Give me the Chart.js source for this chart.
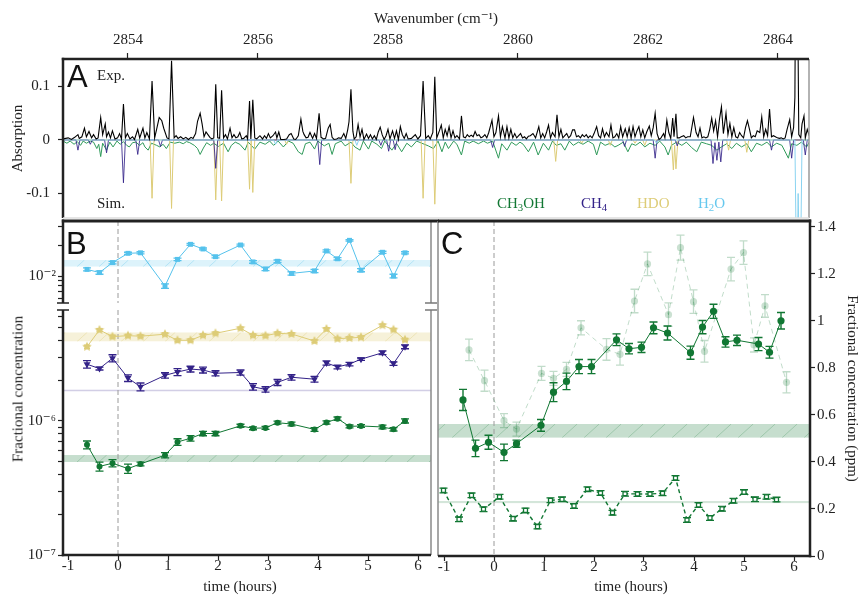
<!DOCTYPE html>
<html><head><meta charset="utf-8">
<script src="https://cdn.jsdelivr.net/npm/chart.js@4.4.1/dist/chart.umd.min.js"></script>
<style>
html,body{margin:0;padding:0;background:#fff;}
#wrap{position:relative;width:861px;height:595px;overflow:hidden;background:#fff;font-family:'Liberation Serif','DejaVu Serif',serif;color:#222;}
canvas{position:absolute;}
.lbl{position:absolute;white-space:nowrap;line-height:1;font-size:15px;}
.panel{position:absolute;font-family:'Liberation Sans','DejaVu Sans',sans-serif;font-size:31px;line-height:1;color:#111;}
sub{font-size:0.72em;vertical-align:-0.28em;line-height:0;}
</style></head><body>
<div id="wrap">
<canvas id="cA" width="861" height="235" style="left:0;top:0;width:861px;height:235px"></canvas>
<canvas id="cBu" width="440" height="104" style="left:0;top:210px;width:440px;height:104px"></canvas>
<canvas id="cBl" width="440" height="296" style="left:0;top:299px;width:440px;height:296px"></canvas>
<canvas id="cC" width="431" height="385" style="left:430px;top:210px;width:431px;height:385px"></canvas>
<div class="panel" style="left:67px;top:61px">A</div>
<div class="panel" style="left:66px;top:228px">B</div>
<div class="panel" style="left:441px;top:228px">C</div>
<div class="lbl" style="left:97px;top:68px">Exp.</div>
<div class="lbl" style="left:97px;top:196px">Sim.</div>
<div class="lbl" style="left:497px;top:196px;color:#117733">CH<sub>3</sub>OH</div>
<div class="lbl" style="left:581px;top:196px;color:#332288">CH<sub>4</sub></div>
<div class="lbl" style="left:637px;top:196px;color:#DDCC77">HDO</div>
<div class="lbl" style="left:698px;top:196px;color:#66C8EE">H<sub>2</sub>O</div>
<div class="lbl" style="left:18px;top:389px;transform:translate(-50%,-50%) rotate(-90deg)">Fractional concentration</div>
<div class="lbl" style="left:240px;top:579px;transform:translateX(-50%)">time (hours)</div>
<div class="lbl" style="left:631px;top:579px;transform:translateX(-50%)">time (hours)</div>
</div>
<script>
// ---------------- DATA ----------------
// Panel A: wavenumber ticks and absorption ticks
const wnTicks = [2854, 2856, 2858, 2860, 2862, 2864];
const absTicks = [-0.1, 0, 0.1];
// Experimental spectrum [wavenumber, absorption]
const expSpectrum = [
[2853.00,.002],[2853.08,.004],[2853.13,.001],[2853.18,.005],[2853.23,.010],[2853.25,.003],[2853.29,.006],[2853.33,.022],[2853.36,.006],[2853.40,.016],
[2853.44,.004],[2853.47,.010],[2853.51,.002],[2853.54,.004],[2853.58,.042],[2853.61,.010],[2853.65,.030],[2853.67,.006],[2853.70,.015],[2853.73,.004],
[2853.76,.017],[2853.80,.002],[2853.84,.004],[2853.87,.012],[2853.90,.002],[2853.93,.067],[2853.96,.004],[2853.99,.012],[2854.03,.002],[2854.07,.006],
[2854.10,.001],[2854.15,.020],[2854.18,.004],[2854.23,.022],[2854.26,.004],[2854.29,.014],[2854.33,.002],[2854.37,.110],[2854.41,.004],[2854.44,.020],
[2854.48,.042],[2854.52,.036],[2854.55,.022],[2854.60,.004],[2854.63,.002],[2854.67,.148],[2854.71,.004],[2854.74,.008],[2854.77,.003],[2854.81,.006],
[2854.85,.002],[2854.89,.005],[2854.93,.001],[2854.97,.005],[2855.00,.003],[2855.04,.012],[2855.07,.035],[2855.11,.050],[2855.14,.030],[2855.17,.006],
[2855.20,.015],[2855.23,.010],[2855.26,.005],[2855.29,.002],[2855.32,.004],[2855.35,.104],[2855.38,.004],[2855.41,.003],[2855.44,.093],[2855.47,.004],
[2855.50,.010],[2855.53,.002],[2855.57,.022],[2855.60,.004],[2855.63,.010],[2855.66,.004],[2855.69,.006],[2855.72,.014],[2855.75,.002],[2855.78,.003],
[2855.82,.008],[2855.84,.002],[2855.87,.073],[2855.89,.002],[2855.92,.075],[2855.95,.004],[2855.98,.002],[2856.03,.008],[2856.07,.002],[2856.10,.008],
[2856.13,.003],[2856.16,.012],[2856.19,.004],[2856.23,.008],[2856.27,.015],[2856.29,.004],[2856.32,.015],[2856.35,.001],[2856.40,.001],[2856.44,.002],
[2856.48,.010],[2856.51,.012],[2856.55,.002],[2856.58,.001],[2856.62,.008],[2856.66,.039],[2856.69,.016],[2856.71,.010],[2856.74,.004],[2856.77,.005],
[2856.80,.014],[2856.84,.003],[2856.87,.012],[2856.90,.003],[2856.94,.050],[2856.97,.005],[2857.01,.002],[2857.04,.003],[2857.08,.022],[2857.11,.029],
[2857.14,.005],[2857.17,.001],[2857.21,.002],[2857.24,.004],[2857.28,.003],[2857.32,.012],[2857.35,.003],[2857.38,.019],[2857.40,.034],[2857.43,.095],
[2857.46,.016],[2857.48,.002],[2857.51,.006],[2857.54,.029],[2857.57,.006],[2857.60,.020],[2857.63,.001],[2857.67,.011],[2857.70,.003],[2857.73,.010],
[2857.76,.002],[2857.79,.008],[2857.82,.001],[2857.85,.015],[2857.88,.024],[2857.91,.010],[2857.94,.001],[2857.97,.008],[2858.00,.020],[2858.03,.002],
[2858.07,.017],[2858.10,.003],[2858.13,.017],[2858.16,.001],[2858.19,.025],[2858.22,.010],[2858.25,.003],[2858.28,.012],[2858.31,.002],[2858.36,.003],
[2858.42,.010],[2858.46,.002],[2858.50,.008],[2858.54,.110],[2858.58,.003],[2858.62,.008],[2858.65,.002],[2858.69,.014],[2858.72,.118],[2858.75,.004],
[2858.79,.017],[2858.82,.028],[2858.85,.004],[2858.88,.020],[2858.91,.008],[2858.94,.025],[2858.97,.004],[2859.00,.017],[2859.03,.004],[2859.06,.008],
[2859.10,.002],[2859.13,.045],[2859.16,.006],[2859.19,.004],[2859.22,.010],[2859.25,.006],[2859.28,.009],[2859.31,.006],[2859.34,.016],[2859.37,.008],
[2859.40,.010],[2859.43,.004],[2859.46,.006],[2859.49,.010],[2859.52,.004],[2859.55,.014],[2859.60,.037],[2859.63,.006],[2859.66,.014],[2859.70,.045],
[2859.73,.006],[2859.76,.025],[2859.80,.004],[2859.83,.025],[2859.86,.004],[2859.89,.020],[2859.92,.004],[2859.95,.012],[2859.98,.004],[2860.01,.008],
[2860.04,.012],[2860.07,.004],[2860.10,.006],[2860.13,.002],[2860.16,.007],[2860.19,.008],[2860.23,.012],[2860.27,.004],[2860.32,.025],[2860.35,.004],
[2860.38,.012],[2860.41,.004],[2860.44,.015],[2860.47,.028],[2860.50,.004],[2860.53,.014],[2860.57,.006],[2860.60,.047],[2860.63,.006],[2860.66,.020],
[2860.69,.004],[2860.72,.008],[2860.75,.012],[2860.78,.004],[2860.81,.008],[2860.84,.019],[2860.87,.019],[2860.90,.006],[2860.93,.008],[2860.96,.004],
[2860.99,.010],[2861.02,.006],[2861.05,.010],[2861.08,.004],[2861.11,.008],[2861.14,.004],[2861.17,.012],[2861.21,.025],[2861.24,.008],[2861.27,.004],
[2861.30,.021],[2861.33,.006],[2861.36,.014],[2861.40,.006],[2861.43,.028],[2861.46,.004],[2861.49,.006],[2861.52,.012],[2861.55,.004],[2861.58,.025],
[2861.61,.006],[2861.65,.021],[2861.68,.006],[2861.71,.023],[2861.74,.004],[2861.77,.025],[2861.80,.006],[2861.83,.017],[2861.86,.025],[2861.89,.006],
[2861.92,.019],[2861.95,.004],[2861.98,.015],[2862.02,.026],[2862.05,.008],[2862.08,.023],[2862.11,.050],[2862.14,.012],[2862.17,.001],[2862.20,.004],
[2862.24,.012],[2862.26,.004],[2862.29,.037],[2862.32,.014],[2862.35,.003],[2862.38,.041],[2862.40,.006],[2862.43,.049],[2862.45,.004],[2862.48,.004],
[2862.51,.006],[2862.55,.008],[2862.58,.004],[2862.61,.006],[2862.65,.006],[2862.70,.042],[2862.74,.014],[2862.77,.006],[2862.80,.022],[2862.83,.004],
[2862.86,.006],[2862.89,.004],[2862.92,.006],[2862.95,.020],[2862.98,.041],[2863.01,.017],[2863.04,.036],[2863.07,.006],[2863.10,.039],[2863.13,.062],
[2863.16,.012],[2863.20,.050],[2863.23,.010],[2863.26,.031],[2863.29,.006],[2863.32,.023],[2863.35,.006],[2863.38,.004],[2863.41,.014],[2863.44,.008],
[2863.47,.004],[2863.50,.023],[2863.53,.036],[2863.56,.021],[2863.59,.004],[2863.62,.008],[2863.65,.006],[2863.68,.017],[2863.72,.014],[2863.75,.043],
[2863.78,.006],[2863.81,.020],[2863.84,.008],[2863.87,.058],[2863.90,.006],[2863.93,.008],[2863.96,.006],[2863.99,.004],[2864.02,.003],[2864.05,.004],
[2864.08,.002],[2864.11,.004],[2864.14,.020],[2864.18,.038],[2864.21,.006],[2864.24,.023],[2864.26,.080],[2864.27,.300],[2864.30,.300],[2864.32,.010],
[2864.35,.004],[2864.37,.030],[2864.40,.045],[2864.42,.004],[2864.45,.020],[2864.48,.008]];
// Simulated spectra (plotted negative)
const simCH3OH = [
[2853.00,-.002],[2853.06,-.006],[2853.11,-.002],[2853.17,-.008],[2853.22,-.003],[2853.27,-.010],[2853.31,-.002],[2853.36,-.006],[2853.42,-.002],[2853.47,-.004],
[2853.52,-.016],[2853.55,-.008],[2853.58,-.031],[2853.61,-.006],[2853.67,-.019],[2853.72,-.004],[2853.77,-.013],[2853.83,-.002],[2853.88,-.008],[2853.93,-.003],
[2853.98,-.010],[2854.02,-.013],[2854.07,-.005],[2854.12,-.004],[2854.18,-.010],[2854.23,-.005],[2854.26,-.013],[2854.31,-.019],[2854.36,-.006],[2854.44,-.010],
[2854.49,-.013],[2854.54,-.008],[2854.59,-.016],[2854.65,-.004],[2854.72,-.006],[2854.79,-.004],[2854.85,-.007],[2854.90,-.003],[2854.95,-.005],[2855.02,-.010],
[2855.07,-.016],[2855.11,-.027],[2855.16,-.015],[2855.21,-.005],[2855.27,-.010],[2855.32,-.006],[2855.39,-.012],[2855.47,-.006],[2855.54,-.022],[2855.59,-.010],
[2855.65,-.004],[2855.72,-.008],[2855.80,-.019],[2855.85,-.004],[2855.95,-.017],[2856.03,-.004],[2856.11,-.008],[2856.18,-.002],[2856.24,-.010],[2856.31,-.002],
[2856.39,-.013],[2856.47,-.002],[2856.54,-.006],[2856.62,-.022],[2856.68,-.027],[2856.73,-.007],[2856.80,-.004],[2856.87,-.017],[2856.92,-.002],[2857.02,-.011],
[2857.09,-.006],[2857.14,-.027],[2857.19,-.007],[2857.28,-.002],[2857.34,-.011],[2857.43,-.004],[2857.49,-.013],[2857.57,-.019],[2857.62,-.002],[2857.70,-.017],
[2857.75,-.002],[2857.83,-.008],[2857.90,-.016],[2857.95,-.002],[2858.06,-.019],[2858.13,-.006],[2858.21,-.022],[2858.29,-.006],[2858.36,-.013],[2858.44,-.002],
[2858.52,-.006],[2858.62,-.011],[2858.70,-.016],[2858.77,-.002],[2858.83,-.022],[2858.88,-.004],[2858.93,-.016],[2859.01,-.002],[2859.06,-.008],[2859.13,-.028],
[2859.18,-.002],[2859.25,-.006],[2859.31,-.002],[2859.39,-.007],[2859.47,-.002],[2859.53,-.006],[2859.61,-.002],[2859.70,-.034],[2859.75,-.007],[2859.83,-.019],
[2859.90,-.004],[2859.97,-.010],[2860.03,-.004],[2860.08,-.008],[2860.16,-.022],[2860.24,-.004],[2860.31,-.028],[2860.39,-.006],[2860.47,-.019],[2860.53,-.002],
[2860.59,-.010],[2860.66,-.007],[2860.72,-.019],[2860.79,-.002],[2860.85,-.010],[2860.93,-.004],[2861.00,-.008],[2861.08,-.002],[2861.16,-.008],[2861.21,-.028],
[2861.27,-.004],[2861.34,-.010],[2861.42,-.006],[2861.49,-.013],[2861.54,-.010],[2861.62,-.004],[2861.69,-.022],[2861.75,-.007],[2861.81,-.010],[2861.88,-.004],
[2861.95,-.013],[2862.03,-.006],[2862.11,-.010],[2862.18,-.002],[2862.26,-.013],[2862.31,-.028],[2862.36,-.010],[2862.44,-.004],[2862.52,-.010],[2862.59,-.004],
[2862.67,-.014],[2862.75,-.022],[2862.82,-.004],[2862.90,-.007],[2862.98,-.010],[2863.06,-.019],[2863.13,-.013],[2863.21,-.007],[2863.29,-.016],[2863.36,-.006],
[2863.44,-.013],[2863.52,-.007],[2863.59,-.022],[2863.67,-.006],[2863.75,-.010],[2863.83,-.004],[2863.90,-.013],[2863.98,-.006],[2864.06,-.010],[2864.16,-.034],
[2864.21,-.007],[2864.29,-.010],[2864.36,-.004],[2864.44,-.013],[2864.48,-.004]];
const simCH4 = [
[2853.00,0],[2853.20,0],[2853.23,-.019],[2853.26,0],[2853.39,0],[2853.42,-.008],[2853.45,0],[2853.64,0],[2853.67,-.024],[2853.70,0],[2853.90,0],[2853.93,-.080],
[2853.96,0],[2854.12,0],[2854.15,-.027],[2854.18,0],[2854.47,0],[2854.50,-.012],[2854.53,0],[2855.32,0],[2855.35,-.053],[2855.38,0],[2856.92,0],[2856.95,-.046],
[2856.98,0],[2857.86,0],[2857.89,-.010],[2857.92,0],[2857.98,0],[2858.01,-.021],[2858.04,0],[2858.08,0],[2858.11,-.018],[2858.14,0],[2859.58,0],[2859.61,-.014],
[2859.64,0],[2861.61,0],[2861.64,-.012],[2861.67,0],[2862.08,0],[2862.11,-.034],[2862.14,0],[2862.42,0],[2862.45,-.011],[2862.48,0],[2862.97,0],[2863.00,-.044],
[2863.03,-.005],[2863.06,-.038],[2863.09,-.004],[2863.12,-.041],[2863.15,0],[2863.87,0],[2863.90,-.019],[2863.93,0],[2864.18,0],[2864.21,-.034],[2864.24,0],
[2864.39,0],[2864.42,-.028],[2864.45,0],[2864.48,0]];
const simHDO = [
[2853.00,0],[2854.34,0],[2854.37,-.109],[2854.40,0],[2854.64,0],[2854.67,-.128],[2854.70,0],[2855.32,0],[2855.35,-.112],[2855.38,0],[2855.41,0],[2855.44,-.114],
[2855.47,0],[2855.84,0],[2855.87,-.092],[2855.895,0],[2855.92,-.098],[2855.95,0],[2856.41,0],[2856.44,-.008],[2856.47,0],[2857.40,0],[2857.43,-.081],[2857.46,0],
[2858.51,0],[2858.54,-.109],[2858.57,0],[2858.69,0],[2858.72,-.120],[2858.75,0],[2860.55,0],[2860.58,-.040],[2860.61,0],[2860.95,0],[2860.98,-.006],[2861.01,0],
[2861.39,0],[2861.42,-.010],[2861.45,0],[2861.77,0],[2861.80,-.006],[2861.83,0],[2861.92,0],[2861.95,-.010],[2861.98,0],[2862.36,0],[2862.39,-.056],[2862.41,-.010],
[2862.43,-.054],[2862.46,0],[2863.21,0],[2863.24,-.019],[2863.27,0],[2863.49,0],[2863.52,-.023],[2863.55,0],[2864.48,0]];
const simH2O = [
[2853.00,0],[2856.24,0],[2856.27,-.008],[2856.30,0],[2857.49,0],[2857.52,-.010],[2857.55,0],[2862.10,0],[2862.13,-.006],[2862.16,0],[2864.26,0],[2864.29,-.30],
[2864.31,-.10],[2864.34,-.30],[2864.37,0],[2864.48,0]];

// Panels B and C: time (hours)
const timeTicks = [-1, 0, 1, 2, 3, 4, 5, 6];
const tMain = [-0.62,-0.37,-0.11,0.2,0.45,0.94,1.19,1.45,1.7,1.95,2.45,2.7,2.95,3.19,3.47,3.93,4.17,4.39,4.63,4.86,5.29,5.51,5.74];
const ch3ohPpm = [0.664,0.458,0.484,0.441,0.478,0.556,0.697,0.743,0.806,0.806,0.92,0.882,0.888,0.971,0.949,0.865,0.974,1.041,0.911,0.918,0.902,0.867,1.001];
const ch3ohErr = [0.045,0.035,0.03,0.035,0.015,0.025,0.04,0.035,0.03,0.03,0.025,0.022,0.022,0.025,0.03,0.028,0.028,0.03,0.022,0.022,0.028,0.025,0.035];
const ch4Ppm = [2.65,2.46,2.94,2.09,1.80,2.19,2.32,2.44,2.40,2.27,2.30,1.80,1.72,1.94,2.12,2.05,2.71,2.53,2.66,2.89,3.23,2.68,3.58];
const ch4Err = [0.17,0.06,0.18,0.12,0.12,0.1,0.14,0.12,0.12,0.1,0.1,0.1,0.08,0.1,0.1,0.1,0.1,0.08,0.08,0.06,0.1,0.08,0.12];
const hdoPpm = [3.58,4.78,4.26,4.33,4.29,4.44,4.0,4.0,4.36,4.51,4.92,4.36,4.33,4.51,4.46,3.95,4.86,4.11,4.16,4.21,5.18,4.8,4.04];
const hdoErr = [0.1,0.1,0.1,0.1,0.1,0.1,0.1,0.1,0.1,0.1,0.1,0.1,0.1,0.1,0.1,0.1,0.1,0.1,0.1,0.1,0.1,0.1,0.1];
const h2oFrac = [0.0116,0.0108,0.0135,0.0166,0.0168,0.0080,0.0145,0.0203,0.0183,0.0154,0.0200,0.0137,0.0117,0.0139,0.0106,0.0112,0.0175,0.0147,0.0222,0.0114,0.0170,0.0100,0.0168];
const h2oErr = [0.0004,0.0004,0.0004,0.0004,0.0004,0.0004,0.0004,0.0004,0.0004,0.0004,0.0004,0.0004,0.0004,0.0004,0.0004,0.0004,0.0004,0.0004,0.0004,0.0004,0.0004,0.0004,0.0004];
const tAlt = [-0.5,-0.19,0.2,0.45,0.95,1.19,1.45,1.74,2.25,2.52,2.81,3.07,3.49,3.73,3.99,4.21,4.74,4.99,5.2,5.42,5.85];
const altPpm = [0.877,0.746,0.576,0.54,0.777,0.756,0.794,0.971,0.879,0.858,1.085,1.243,1.027,1.312,1.082,0.871,1.221,1.291,0.898,1.064,0.739];
const altErr = [0.046,0.045,0.03,0.03,0.03,0.03,0.03,0.03,0.046,0.046,0.05,0.05,0.05,0.053,0.05,0.046,0.05,0.05,0.03,0.048,0.045];
const tSq = [-1.01,-0.7,-0.45,-0.21,0.11,0.38,0.63,0.87,1.13,1.36,1.6,1.87,2.13,2.37,2.62,2.87,3.12,3.37,3.63,3.86,4.09,4.32,4.56,4.79,5.0,5.22,5.45,5.65];
const sqPpm = [0.279,0.156,0.258,0.199,0.252,0.159,0.194,0.125,0.237,0.241,0.213,0.284,0.268,0.184,0.265,0.264,0.264,0.267,0.332,0.153,0.217,0.162,0.201,0.235,0.272,0.241,0.252,0.240];
const sqErr = [0.01,0.01,0.01,0.01,0.01,0.01,0.01,0.01,0.01,0.01,0.01,0.01,0.01,0.01,0.01,0.01,0.01,0.01,0.01,0.01,0.01,0.01,0.01,0.01,0.01,0.01,0.01,0.01];
// Reference bands
const h2oBand = [0.0123, 0.0143];
const hdoBand = [3.91e-6, 4.59e-6];
const ch4Band = [1.66e-6, 1.72e-6];
const ch3ohBandB = [0.494e-6, 0.557e-6];
const ch3ohBandC = [0.503, 0.562];
const sqBand = [0.224, 0.234];
const eventTime = 0;
// axis tick values
const upperTicks = [0.006,0.007,0.008,0.009,0.01,0.02,0.03];
const lowerTicks = [1e-7,2e-7,3e-7,4e-7,5e-7,6e-7,7e-7,8e-7,9e-7,1e-6,2e-6,3e-6,4e-6,5e-6,6e-6];
const ppmTicks = [0,0.2,0.4,0.6,0.8,1,1.2,1.4];

// ---------------- STYLE ----------------
const SERIF = "'Liberation Serif','DejaVu Serif',serif";
const GREEN='#117733', PURPLE='#332288', SAND='#DDCC77', CYAN='#55C2EC', CYANL='#8AD3F0';
const PALE='rgba(17,119,51,0.26)';
const INK='#222';

const framePlugin = {
  id:'frame',
  afterDraw(chart, args, o){
    const a=chart.chartArea, ctx=chart.ctx, e=o.edges||{};
    const ln=(x1,y1,x2,y2,c,w)=>{ctx.strokeStyle=c;ctx.lineWidth=w;ctx.beginPath();ctx.moveTo(x1,y1);ctx.lineTo(x2,y2);ctx.stroke();};
    ctx.save(); ctx.setLineDash([]);
    if(e.left) ln(a.left,a.top-(e.left[2]||0),a.left,a.bottom+(e.left[3]||0),e.left[0],e.left[1]);
    if(e.right) ln(a.right,a.top-(e.right[2]||0),a.right,a.bottom+(e.right[3]||0),e.right[0],e.right[1]);
    if(e.top) ln(a.left-(e.top[2]||0),a.top,a.right+(e.top[3]||0),a.top,e.top[0],e.top[1]);
    if(e.bottom) ln(a.left-(e.bottom[2]||0),a.bottom,a.right+(e.bottom[3]||0),a.bottom,e.bottom[0],e.bottom[1]);
    (o.caps||[]).forEach(c=>{
      const y=c.y==='top'?a.top:a.bottom;
      ln(a.left-6,y,a.left+6,y,INK,1.5);
      ln(a.right-6,y,a.right+6,y,'#777',1.5);
    });
    ctx.restore();
  }
};
const bandPlugin = {
  id:'bands',
  beforeDatasetsDraw(chart, args, o){
    if(!o.list) return;
    const a=chart.chartArea, ctx=chart.ctx, ys=chart.scales.y;
    o.list.forEach(b=>{
      const y1=ys.getPixelForValue(b.range[1]), y2=ys.getPixelForValue(b.range[0]);
      ctx.save(); ctx.beginPath(); ctx.rect(a.left,y1,a.right-a.left,y2-y1); ctx.clip();
      ctx.fillStyle=b.color; ctx.fillRect(a.left,y1,a.right-a.left,y2-y1);
      if(b.hatch){
        const h=y2-y1; ctx.strokeStyle=b.hatch; ctx.lineWidth=1; ctx.beginPath();
        for(let x=a.left-30;x<a.right+30;x+=22){ctx.moveTo(x,y2);ctx.lineTo(x+Math.max(h,6)*1.1,y1);}
        ctx.stroke();
      }
      ctx.restore();
    });
  }
};
const vlinePlugin = {
  id:'vline',
  beforeDatasetsDraw(chart, args, o){
    if(o.value===undefined) return;
    const a=chart.chartArea, ctx=chart.ctx, x=chart.scales.x.getPixelForValue(o.value);
    ctx.save(); ctx.setLineDash([5,3]); ctx.strokeStyle='#9a9a9a'; ctx.lineWidth=1;
    ctx.beginPath(); ctx.moveTo(x,a.top); ctx.lineTo(x,a.bottom); ctx.stroke(); ctx.restore();
  }
};
const errPlugin = {
  id:'errbars',
  beforeDatasetDraw(chart, args){
    const ds=chart.data.datasets[args.index];
    if(!ds.errors) return;
    const meta=args.meta, ys=chart.scales[meta.yAxisID], ctx=chart.ctx, c=ds.cap||4;
    ctx.save(); ctx.setLineDash([]); ctx.strokeStyle=ds.errColor||ds.borderColor; ctx.lineWidth=ds.errWidth||1.3;
    ctx.beginPath();
    meta.data.forEach((pt,j)=>{
      const v=ds.data[j].y, e=ds.errors[j];
      const y1=ys.getPixelForValue(v-e), y2=ys.getPixelForValue(v+e);
      ctx.moveTo(pt.x,y1); ctx.lineTo(pt.x,y2);
      ctx.moveTo(pt.x-c,y1); ctx.lineTo(pt.x+c,y1);
      ctx.moveTo(pt.x-c,y2); ctx.lineTo(pt.x+c,y2);
    });
    ctx.stroke(); ctx.restore();
  }
};
Chart.register(framePlugin, bandPlugin, vlinePlugin, errPlugin);

function starImg(color, r){
  const s=Math.ceil(r*2+2), c=document.createElement('canvas'); c.width=c.height=s;
  const g=c.getContext('2d'); g.fillStyle=color; g.beginPath();
  for(let k=0;k<10;k++){const ang=-Math.PI/2+k*Math.PI/5, rr=k%2?r*0.5:r; g.lineTo(s/2+rr*Math.cos(ang), s/2+rr*Math.sin(ang));}
  g.closePath(); g.fill(); return c;
}
const SUP={'-':'⁻','0':'⁰','1':'¹','2':'²','3':'³','4':'⁴','5':'⁵','6':'⁶','7':'⁷','8':'⁸','9':'⁹'};
function powLabel(v){const lg=Math.log10(v), r=Math.round(lg); if(Math.abs(lg-r)>1e-6) return ''; return '10'+String(r).split('').map(ch=>SUP[ch]).join('');}
const tf=()=>({family:SERIF,size:15});
const tickGrid=(len)=>({display:true,drawOnChartArea:false,drawTicks:true,tickLength:len,tickColor:INK,tickWidth:1.2,color:INK});
const pts=(xs,ys,scale)=>xs.map((x,i)=>({x:x,y:ys[i]*(scale||1)}));
const pairs=(arr)=>arr.map(p=>({x:p[0],y:p[1]}));
const base={responsive:false,animation:false,events:[],plugins:{legend:{display:false},tooltip:{enabled:false}}};

// ---------------- PANEL A ----------------
new Chart(document.getElementById('cA'),{
  type:'line',
  data:{datasets:[
    {data:pairs(expSpectrum),borderColor:'#000',borderWidth:1.1,pointRadius:0},
    {data:pairs(simH2O),borderColor:CYANL,borderWidth:1,pointRadius:0},
    {data:pairs(simCH4),borderColor:'rgba(51,34,136,0.85)',borderWidth:1,pointRadius:0},
    {data:pairs(simHDO),borderColor:SAND,borderWidth:1,pointRadius:0},
    {data:pairs(simCH3OH),borderColor:'#2f9a5a',borderWidth:1,pointRadius:0}
  ]},
  options:{...base,
    layout:{padding:{left:0,right:52,top:0,bottom:0}},
    plugins:{...base.plugins,frame:{edges:{left:[INK,2.5,1.2,0],top:[INK,2.5,1.2,0],right:['#9a9a9a',1.5],bottom:['#dcdcdc',1.5]}}},
    scales:{
      x:{type:'linear',position:'top',min:2853,max:2864.477,
        afterBuildTicks:s=>{s.ticks=wnTicks.map(v=>({value:v}));},
        afterFit:s=>{s.height=59;},
        ticks:{font:tf(),color:INK,padding:4,maxRotation:0,autoSkip:false,callback:v=>String(v)},
        grid:tickGrid(6),border:{display:false},
        title:{display:true,text:'Wavenumber (cm⁻¹)',font:tf(),color:INK,padding:{top:10,bottom:0}}},
      y:{type:'linear',min:-0.1458,max:0.1514,
        afterBuildTicks:s=>{s.ticks=absTicks.map(v=>({value:v}));},
        afterFit:s=>{s.width=63;},
        ticks:{font:tf(),color:INK,padding:8,autoSkip:false,callback:v=>v===0?'0':v.toFixed(1)},
        grid:tickGrid(5),border:{display:false},
        title:{display:true,text:'Absorption',font:tf(),color:INK,padding:{top:9,bottom:0}}}
    }}
});

// ---------------- PANEL B upper (H2O) ----------------
new Chart(document.getElementById('cBu'),{
  type:'line',
  data:{datasets:[
    {data:pts(tMain,h2oFrac),errors:h2oErr,borderColor:CYAN,backgroundColor:CYAN,borderWidth:1,pointStyle:'rect',pointRadius:3.5,pointBorderWidth:0,cap:4}
  ]},
  options:{...base,
    layout:{padding:{left:0,right:9,top:0,bottom:0}},
    plugins:{...base.plugins,
      frame:{edges:{left:[INK,2.5,1.5,0],top:[INK,3,1.2,8],right:['#8a8a8a',1.5]},caps:[{y:'bottom'}]},
      bands:{list:[{range:h2oBand,color:'rgba(85,194,236,0.2)',hatch:'rgba(85,194,236,0.3)'}]},
      vline:{value:eventTime}},
    scales:{
      x:{type:'linear',display:false,min:-1.1,max:6.26},
      y:{type:'logarithmic',min:0.00547,max:0.0342,
        afterBuildTicks:s=>{s.ticks=upperTicks.map(v=>({value:v}));},
        afterFit:s=>{s.width=63;},
        ticks:{font:tf(),color:INK,padding:2,autoSkip:false,callback:v=>powLabel(v)},
        grid:tickGrid(5),border:{display:false}}
    }}
});

// ---------------- PANEL B lower ----------------
new Chart(document.getElementById('cBl'),{
  type:'line',
  data:{datasets:[
    {data:pts(tMain,ch3ohPpm,1e-6),errors:ch3ohErr.map(e=>e*1e-6),borderColor:GREEN,backgroundColor:GREEN,borderWidth:1,pointStyle:'circle',pointRadius:3,pointBorderWidth:0,cap:4},
    {data:pts(tMain,ch4Ppm,1e-6),errors:ch4Err.map(e=>e*1e-6),borderColor:PURPLE,backgroundColor:PURPLE,borderWidth:1,pointStyle:'triangle',pointRotation:180,pointRadius:4,pointBorderWidth:0,cap:4},
    {data:pts(tMain,hdoPpm,1e-6),errors:hdoErr.map(e=>e*1e-6),borderColor:SAND,backgroundColor:SAND,borderWidth:1,pointStyle:starImg(SAND,5),pointRadius:5,cap:3}
  ]},
  options:{...base,
    layout:{padding:{left:0,right:9,top:0,bottom:0}},
    plugins:{...base.plugins,
      frame:{edges:{left:[INK,2.5,0,1.2],bottom:[INK,2.5,1.2,0],right:['#8a8a8a',1.5]},caps:[{y:'top'}]},
      bands:{list:[
        {range:hdoBand,color:'rgba(221,204,119,0.28)',hatch:'rgba(221,204,119,0.35)'},
        {range:ch4Band,color:'rgba(51,34,136,0.22)'},
        {range:ch3ohBandB,color:'rgba(17,119,51,0.24)',hatch:'rgba(17,119,51,0.22)'}]},
      vline:{value:eventTime}},
    scales:{
      x:{type:'linear',min:-1.1,max:6.26,
        afterBuildTicks:s=>{s.ticks=timeTicks.map(v=>({value:v}));},
        afterFit:s=>{s.height=40;},
        ticks:{font:tf(),color:INK,padding:-3,maxRotation:0,autoSkip:false,callback:v=>String(v)},
        grid:tickGrid(5),border:{display:false}},
      y:{type:'logarithmic',min:1e-7,max:6.73e-6,
        afterBuildTicks:s=>{s.ticks=lowerTicks.map(v=>({value:v}));},
        afterFit:s=>{s.width=63;},
        ticks:{font:tf(),color:INK,padding:2,autoSkip:false,callback:v=>powLabel(v)},
        grid:tickGrid(5),border:{display:false}}
    }}
});

// ---------------- PANEL C ----------------
new Chart(document.getElementById('cC'),{
  type:'line',
  data:{datasets:[
    {data:pts(tMain,ch3ohPpm),errors:ch3ohErr,borderColor:GREEN,backgroundColor:GREEN,borderWidth:1,pointStyle:'circle',pointRadius:3.6,pointBorderWidth:0,cap:4,errWidth:1.4},
    {data:pts(tSq,sqPpm),errors:sqErr,borderColor:GREEN,backgroundColor:'#fff',borderWidth:1.4,borderDash:[4,3],pointStyle:'rect',pointRadius:2.8,pointBorderWidth:1.3,cap:4},
    {data:pts(tAlt,altPpm),errors:altErr,borderColor:PALE,backgroundColor:'rgba(17,119,51,0.22)',borderWidth:1,borderDash:[5,4],pointStyle:'circle',pointRadius:3.6,pointBorderWidth:0,cap:4}
  ]},
  options:{...base,
    layout:{padding:{left:8,right:0,top:0,bottom:0}},
    plugins:{...base.plugins,
      frame:{edges:{left:['#8a8a8a',1.5],top:[INK,3,0,1.2],right:[INK,2.5,1.5,1.2],bottom:[INK,2.5,0,1.2]}},
      bands:{list:[
        {range:ch3ohBandC,color:'rgba(17,119,51,0.24)',hatch:'rgba(17,119,51,0.22)'},
        {range:sqBand,color:'rgba(17,119,51,0.18)'}]},
      vline:{value:eventTime}},
    scales:{
      x:{type:'linear',min:-1.12,max:6.32,
        afterBuildTicks:s=>{s.ticks=timeTicks.map(v=>({value:v}));},
        afterFit:s=>{s.height=39;},
        ticks:{font:tf(),color:INK,padding:-3,maxRotation:0,autoSkip:false,callback:v=>String(v)},
        grid:tickGrid(5),border:{display:false}},
      y:{type:'linear',position:'right',min:0,max:1.4255,
        afterBuildTicks:s=>{s.ticks=ppmTicks.map(v=>({value:v}));},
        afterFit:s=>{s.width=51;},
        ticks:{font:tf(),color:INK,padding:2,autoSkip:false,callback:v=>String(Math.round(v*10)/10)},
        grid:tickGrid(5),border:{display:false},
        title:{display:true,text:'Fractional concentration (ppm)',font:tf(),color:INK,padding:{top:0,bottom:0}}}
    }}
});
</script>
</body></html>
